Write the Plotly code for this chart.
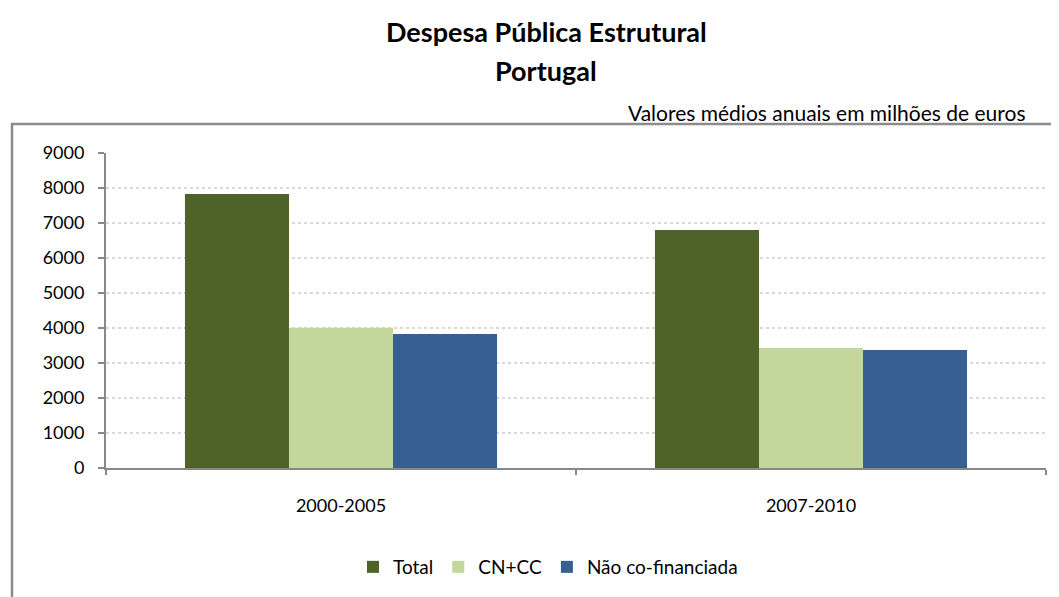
import plotly.graph_objects as go

categories = ["2000-2005", "2007-2010"]
total = [7830, 6800]
cn_cc = [4010, 3430]
nao_cofin = [3830, 3370]
series_names = ["Total", "CN+CC", "Não co-financiada"]
colors = ["#4F6228", "#C3D69B", "#376092"]

W, H = 1059, 597
OFF = 8  # page body margin offset
# target screen positions of plot area
SL, SR, ST, SB = 106, 1046, 153, 468
L = SL - OFF
T = ST - OFF
R = W - (SR - OFF)
B = H - (SB - OFF)
PW, PH = W - L - R, H - T - B

def px(x):
    return (x - OFF - L) / PW

def py(y):
    return (H - B - (y - OFF)) / PH

fig = go.Figure()
for name, vals, col in zip(series_names, [total, cn_cc, nao_cofin], colors):
    fig.add_trace(go.Bar(x=categories, y=vals, name=name, marker_color=col,
                         marker_line_width=0))

font = "Lato, 'Open Sans', sans-serif"
fig.update_layout(
    width=W, height=H,
    margin=dict(l=L, r=R, t=T, b=B),
    paper_bgcolor="white", plot_bgcolor="white",
    barmode="group", bargap=0.336, bargroupgap=0,
    font=dict(family=font, size=18, color="black"),
    showlegend=True,
    legend=dict(orientation="h", x=px(548), y=py(567), xanchor="center", yanchor="middle",
                font=dict(size=19), itemwidth=30, traceorder="normal"),
    xaxis=dict(showline=True, linecolor="#888888", linewidth=2, ticks="outside",
               tickson="boundaries", ticklen=5, tickcolor="#888888", tickwidth=1.5,
               tickfont=dict(size=18), showgrid=False, ticklabelstandoff=20),
    yaxis=dict(range=[0, 9000], dtick=1000, showline=True, linecolor="#888888", linewidth=2,
               ticks="outside", ticklen=6, tickcolor="#888888", tickwidth=1.5,
               showgrid=True, gridcolor="#D9D9D9", griddash="dot", gridwidth=2,
               zeroline=False, tickfont=dict(size=18), ticklabelstandoff=10),
    shapes=[dict(type="rect", xref="paper", yref="paper",
                 x0=px(12), x1=px(1066), y0=py(124), y1=py(610),
                 line=dict(color="#8C8C8C", width=2.5), layer="below")],
    annotations=[
        dict(text="<b>Despesa Pública Estrutural</b>", xref="paper", yref="paper",
             x=px(546), y=py(31), showarrow=False, font=dict(size=27), xanchor="center", yanchor="middle"),
        dict(text="<b>Portugal</b>", xref="paper", yref="paper",
             x=px(546), y=py(70), showarrow=False, font=dict(size=27), xanchor="center", yanchor="middle"),
        dict(text="Valores médios anuais em milhões de euros", xref="paper", yref="paper",
             x=px(1028), y=py(112), showarrow=False, font=dict(size=21), xanchor="right", yanchor="middle"),
    ],
)
fig.write_html("out.html")
